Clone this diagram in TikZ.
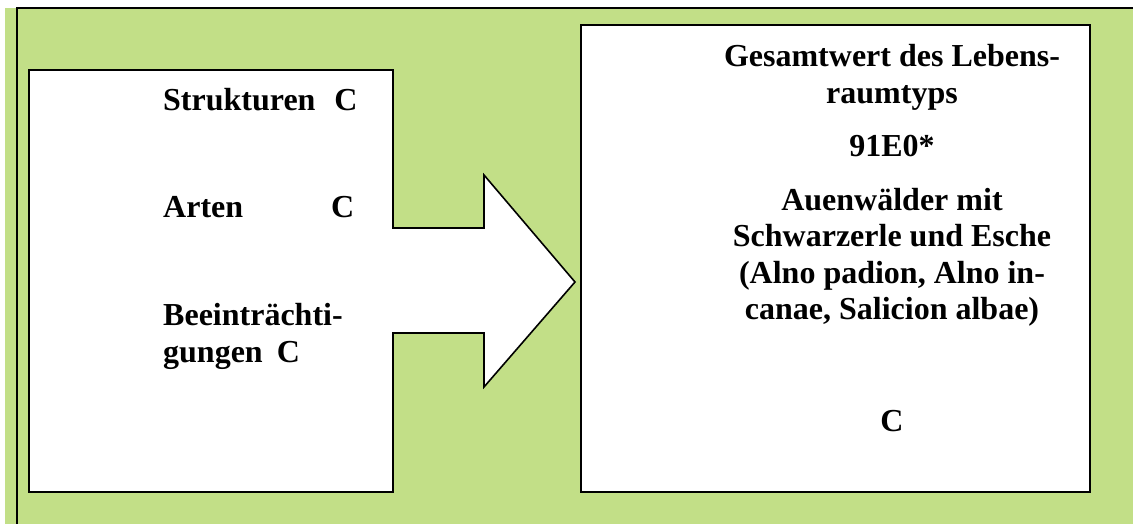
\documentclass[tikz,border=0pt]{standalone}
\usepackage{fontspec}
\setmainfont{Liberation Serif}
\definecolor{bg}{RGB}{194,223,135}
\begin{document}
\begin{tikzpicture}[x=1pt,y=-1pt,
  txt/.style={font=\fontsize{32}{36.8}\selectfont\bfseries, inner sep=0pt, anchor=base west},
  ctr/.style={txt, anchor=base},
  frame/.style={line width=1.6pt},
  boxline/.style={draw=black, fill=white, line width=1.6pt, line join=miter}]
\useasboundingbox (0,0) rectangle (1133,524);
\fill[bg] (5,8) rectangle (1133,524);
\coordinate (tr) at (1133,8);
\coordinate (tl) at (17,8);
\coordinate (bl) at (17,524);
\draw[frame] (tr) -- (tl) -- (bl);
% left box merged with arrow
\draw[boxline] (29,70) -- (393,70) -- (393,228) -- (484,228) -- (484,175) -- (575,282)
  -- (484,387) -- (484,333) -- (393,333) -- (393,492) -- (29,492) -- cycle;
% right box
\draw[boxline] (581,25) rectangle (1090,492);
% left texts
\node[txt] (s) at (163,111) {Strukturen\hspace{19pt}C};
\node[txt] (a) at (163,218) {Arten\hspace{88pt}C};
\node[txt] (b1) at (163,325) {Beeinträchti-};
\node[txt] (b2) at (163,362) {gungen\hspace{14pt}C};
% right texts
\node[ctr] (g1) at (892,67) {Gesamtwert des Lebens-};
\node[ctr] (g2) at (892,104) {raumtyps};
\node[ctr] (n) at (892,157) {91E0*};
\node[ctr] (w1) at (892,210) {Auenwälder mit};
\node[ctr] (w2) at (892,246) {Schwarzerle und Esche};
\node[ctr] (w3) at (892,283) {(Alno padion, Alno in-};
\node[ctr] (w4) at (892,319) {canae, Salicion albae)};
\node[ctr] (c) at (892,431) {C};
\end{tikzpicture}
\end{document}
